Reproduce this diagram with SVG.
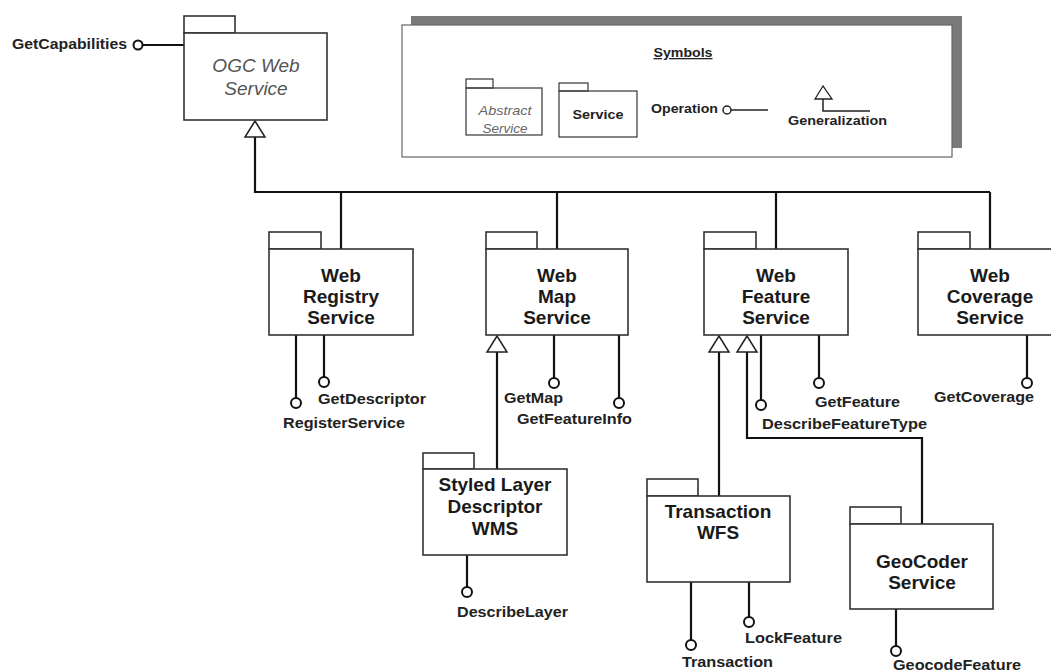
<svg xmlns="http://www.w3.org/2000/svg" xmlns:xlink="http://www.w3.org/1999/xlink" width="1051" height="671" viewBox="0 0 1051 671">
<style>
.bg{fill:#fff}
.tab{fill:#fff;stroke:#333;stroke-width:1.6}
.box{fill:#fff;stroke:#333;stroke-width:1.6}
.title{font-family:"Liberation Sans",Arial,sans-serif;font-weight:bold;font-size:19px;fill:#1a1a1a;text-anchor:middle}
.abs{font-family:"Liberation Sans",Arial,sans-serif;font-style:italic;font-size:19px;fill:#555;text-anchor:middle}
.op{font-family:"Liberation Sans",Arial,sans-serif;font-weight:bold;font-size:14px;fill:#222}
.wire{fill:none;stroke:#111;stroke-width:2.2}
.lol{fill:none;stroke:#111;stroke-width:2.2}
.ball{fill:#fff;stroke:#111;stroke-width:2}
.gen{fill:#fff;stroke:#222;stroke-width:1.5}
.leg{font-family:"Liberation Sans",Arial,sans-serif;font-weight:bold;font-size:13px;fill:#222}
.lbox{fill:none;stroke:#444;stroke-width:1.3}
</style>
<defs>
<path id="tri" class="gen" d="M0,0 L-10,16 L10,16 Z"/>
</defs>
<rect class="bg" x="0" y="0" width="1051" height="671"/>

<!-- Legend -->
<g id="legend">
<rect x="411" y="16" width="551" height="132" fill="#7a7a7a"/>
<rect x="402" y="25" width="550" height="132" fill="#fff" stroke="#666" stroke-width="1.2"/>
<text class="leg" x="683" y="57" text-anchor="middle" text-decoration="underline" textLength="59" lengthAdjust="spacingAndGlyphs">Symbols</text>
<text x="505" y="115" font-family="'Liberation Sans',Arial,sans-serif" font-style="italic" font-size="13.5" fill="#666" text-anchor="middle" textLength="53" lengthAdjust="spacingAndGlyphs">Abstract</text>
<text x="505" y="133" font-family="'Liberation Sans',Arial,sans-serif" font-style="italic" font-size="13.5" fill="#666" text-anchor="middle">Service</text>
<rect class="lbox" x="466" y="79" width="27" height="9"/>
<rect class="lbox" x="466" y="88" width="76" height="47"/>
<rect class="lbox" x="559" y="83" width="29" height="8"/>
<rect class="lbox" x="559" y="91" width="78" height="46"/>
<text class="leg" x="598" y="119" text-anchor="middle" textLength="51" lengthAdjust="spacingAndGlyphs">Service</text>
<text class="leg" x="651" y="113" textLength="67" lengthAdjust="spacingAndGlyphs">Operation</text>
<line x1="731" y1="110" x2="768" y2="110" stroke="#222" stroke-width="1.5"/>
<circle cx="727" cy="110" r="4" fill="#fff" stroke="#222" stroke-width="1.5"/>
<path d="M823,99 V111 H870" fill="none" stroke="#222" stroke-width="1.5"/>
<path d="M823,86 L815,99 L832,99 Z" fill="#fff" stroke="#222" stroke-width="1.3"/>
<text class="leg" x="788" y="125" textLength="99" lengthAdjust="spacingAndGlyphs">Generalization</text>
</g>

<!-- Connectors -->
<g id="connectors">
<path class="wire" d="M255,137 V192 H990 M341,192 V249 M557,192 V249 M776,192 V249 M990,192 V249"/>
<path class="wire" d="M497,352 V469"/>
<path class="wire" d="M719,352 V496"/>
<path class="wire" d="M747,352 V438 H922 V524"/>
<use xlink:href="#tri" x="255" y="121"/>
<use xlink:href="#tri" x="497" y="336"/>
<use xlink:href="#tri" x="719" y="336"/>
<use xlink:href="#tri" x="747" y="336"/>
<!-- operations -->
<path class="lol" d="M143,45 H184"/><circle class="ball" cx="138" cy="45" r="4.5"/>
<path class="lol" d="M296,335 V398"/><circle class="ball" cx="296" cy="403" r="5"/>
<path class="lol" d="M324,335 V377"/><circle class="ball" cx="324" cy="382" r="5"/>
<path class="lol" d="M554,335 V378"/><circle class="ball" cx="554" cy="383" r="5"/>
<path class="lol" d="M619,335 V398"/><circle class="ball" cx="619" cy="403" r="5"/>
<path class="lol" d="M467,555 V587"/><circle class="ball" cx="467" cy="592" r="5"/>
<path class="lol" d="M761,335 V400"/><circle class="ball" cx="761" cy="405" r="5"/>
<path class="lol" d="M819,335 V378"/><circle class="ball" cx="819" cy="383" r="5"/>
<path class="lol" d="M1027,335 V378"/><circle class="ball" cx="1027" cy="383" r="5"/>
<path class="lol" d="M691,582 V640"/><circle class="ball" cx="691" cy="645" r="5"/>
<path class="lol" d="M749,582 V617"/><circle class="ball" cx="749" cy="622" r="5"/>
<path class="lol" d="M896,609 V646"/><circle class="ball" cx="896" cy="651" r="5"/>
</g>

<!-- Operation labels -->
<g id="operations">
<text class="op" x="12" y="49" textLength="115" lengthAdjust="spacingAndGlyphs">GetCapabilities</text>
<text class="op" x="283" y="428" textLength="122" lengthAdjust="spacingAndGlyphs">RegisterService</text>
<text class="op" x="318" y="404" textLength="108" lengthAdjust="spacingAndGlyphs">GetDescriptor</text>
<text class="op" x="504" y="403" textLength="59" lengthAdjust="spacingAndGlyphs">GetMap</text>
<text class="op" x="517" y="424" textLength="115" lengthAdjust="spacingAndGlyphs">GetFeatureInfo</text>
<text class="op" x="457" y="617" textLength="111" lengthAdjust="spacingAndGlyphs">DescribeLayer</text>
<text class="op" x="815" y="407" textLength="85" lengthAdjust="spacingAndGlyphs">GetFeature</text>
<text class="op" x="762" y="429" textLength="165" lengthAdjust="spacingAndGlyphs">DescribeFeatureType</text>
<text class="op" x="934" y="402" textLength="100" lengthAdjust="spacingAndGlyphs">GetCoverage</text>
<text class="op" x="682" y="667" textLength="91" lengthAdjust="spacingAndGlyphs">Transaction</text>
<text class="op" x="745" y="643" textLength="97" lengthAdjust="spacingAndGlyphs">LockFeature</text>
<text class="op" x="893" y="670" textLength="128" lengthAdjust="spacingAndGlyphs">GeocodeFeature</text>
</g>

<!-- Nodes -->
<g id="ogc-web-service">
<rect class="tab" x="184" y="16" width="51" height="17"/>
<rect class="box" x="184" y="33" width="143" height="87"/>
<text class="abs" x="256" y="72">OGC Web</text>
<text class="abs" x="256" y="95">Service</text>
</g>

<g id="web-registry-service">
<rect class="tab" x="269" y="232" width="52" height="17"/>
<rect class="box" x="269" y="249" width="144" height="86"/>
<text class="title" x="341" y="282">Web</text>
<text class="title" x="341" y="303">Registry</text>
<text class="title" x="341" y="324">Service</text>
</g>

<g id="web-map-service">
<rect class="tab" x="486" y="232" width="51" height="17"/>
<rect class="box" x="486" y="249" width="142" height="86"/>
<text class="title" x="557" y="282">Web</text>
<text class="title" x="557" y="303">Map</text>
<text class="title" x="557" y="324">Service</text>
</g>

<g id="web-feature-service">
<rect class="tab" x="704" y="232" width="52" height="17"/>
<rect class="box" x="704" y="249" width="144" height="86"/>
<text class="title" x="776" y="282">Web</text>
<text class="title" x="776" y="303">Feature</text>
<text class="title" x="776" y="324">Service</text>
</g>

<g id="web-coverage-service">
<rect class="tab" x="918" y="232" width="52" height="17"/>
<rect class="box" x="918" y="249" width="144" height="86"/>
<text class="title" x="990" y="282">Web</text>
<text class="title" x="990" y="303">Coverage</text>
<text class="title" x="990" y="324">Service</text>
</g>

<g id="styled-layer-descriptor-wms">
<rect class="tab" x="423" y="453" width="51" height="16"/>
<rect class="box" x="423" y="469" width="144" height="86"/>
<text class="title" x="495" y="491">Styled Layer</text>
<text class="title" x="495" y="513">Descriptor</text>
<text class="title" x="495" y="535">WMS</text>
</g>

<g id="transaction-wfs">
<rect class="tab" x="647" y="479" width="51" height="17"/>
<rect class="box" x="647" y="496" width="143" height="86"/>
<text class="title" x="718" y="518">Transaction</text>
<text class="title" x="718" y="539">WFS</text>
</g>

<g id="geocoder-service">
<rect class="tab" x="850" y="507" width="51" height="17"/>
<rect class="box" x="850" y="524" width="143" height="85"/>
<text class="title" x="922" y="568">GeoCoder</text>
<text class="title" x="922" y="589">Service</text>
</g>
</svg>
